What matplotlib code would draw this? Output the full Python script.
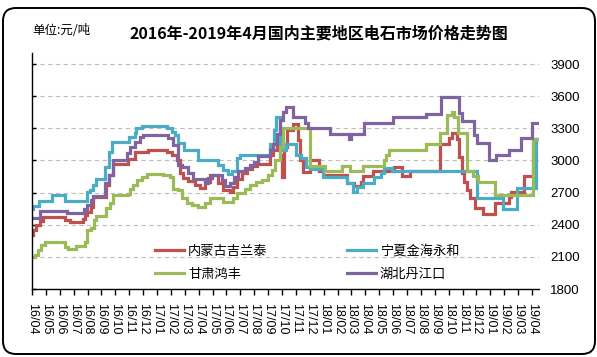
import matplotlib
matplotlib.use("Agg")
import matplotlib.pyplot as plt
from matplotlib.patches import FancyBboxPatch
from matplotlib.transforms import IdentityTransform

plt.rcParams['font.family'] = ['Noto Sans CJK SC', 'DejaVu Sans']

# ---------------- data (x = months since 2016/04, y = price 元/吨) ----------------
month_labels = ['16/04', '16/05', '16/06', '16/07', '16/08', '16/09', '16/10', '16/11', '16/12',
                '17/01', '17/02', '17/03', '17/04', '17/05', '17/06', '17/07', '17/08', '17/09',
                '17/10', '17/11', '17/12', '18/01', '18/02', '18/03', '18/04', '18/05', '18/06',
                '18/07', '18/08', '18/09', '18/10', '18/11', '18/12', '19/01', '19/02', '19/03', '19/04']
y_ticks = [1800, 2100, 2400, 2700, 3000, 3300, 3600, 3900]

series_names = ['内蒙古吉兰泰', '宁夏金海永和', '甘肃鸿丰', '湖北丹江口']

nm_x = [0, 0.07, 0.31, 0.55, 0.79, 2.35, 2.71, 3.67, 3.8, 3.98, 4.23, 4.39, 5.35, 5.55, 5.84,
        6.94, 7.42, 8.38, 9.7, 10.06, 10.42, 10.66, 10.9, 11.24, 11.74, 12.1, 12.46, 12.82,
        13.4, 13.76, 14.27, 14.48, 14.77, 15.13, 15.49, 15.85, 16.21, 17.15, 17.36, 17.65,
        17.87, 18.01, 18.16, 18.37, 18.8, 19.16, 19.31, 19.52, 20.03, 20.68, 20.96, 22.7,
        23.2, 23.7, 23.85, 24.57, 26.03, 26.63, 27.23, 29.39, 29.99, 30.24, 30.6, 30.71,
        30.96, 31.08, 31.32, 31.5, 31.92, 32.47, 33.36, 34.32, 34.49, 35.4, 36.1]
nm_y = [2300, 2350, 2395, 2435, 2475, 2440, 2425, 2450, 2490, 2520, 2565, 2660, 2770, 2860, 2970,
        3015, 3080, 3095, 3080, 3050, 3000, 2880, 2840, 2810, 2770, 2740, 2800, 2860,
        2786, 2724, 2710, 2755, 2830, 2885, 2920, 2945, 2970, 3050, 3093, 3190,
        3050, 2850, 3128, 3284, 3340, 3190, 3004, 2890, 3000, 2905, 2860, 2790,
        2760, 2800, 2855, 2904, 2942, 2855, 2904, 3153, 3206, 3253, 3200, 3035,
        2880, 2802, 2724, 2647, 2553, 2500, 2600, 2660, 2710, 2855, 3197]

nx_x = [0, 0.07, 0.5, 1.44, 2.35, 3.98, 4.15, 4.39, 4.63, 5.28, 5.55, 5.76, 6.99, 7.42, 7.5,
        7.9, 9.7, 10.06, 10.3, 10.54, 10.95, 11.94, 13.4, 13.76, 14.12, 14.41, 14.77, 14.99,
        17.15, 17.39, 17.56, 17.87, 17.99, 18.3, 19.02, 19.38, 19.74, 20.0, 20.96, 22.7,
        23.13, 23.41, 23.85, 24.64, 25.14, 25.32, 25.91, 32.04, 33.91, 34.92, 36.3]
nx_y = [2550, 2575, 2620, 2675, 2620, 2705, 2728, 2775, 2825, 2940, 3075, 3170, 3220, 3260, 3300,
        3320, 3300, 3267, 3235, 3160, 3095, 3004, 2955, 2910, 2870, 2900, 3020, 3050,
        3158, 3284, 3408, 3128, 3100, 3158, 3050, 3020, 2940, 2920, 2850, 2790,
        2708, 2750, 2792, 2848, 2880, 2927, 2904, 2647, 2544, 2745, 3200]

gs_x = [0, 0.19, 0.43, 0.67, 0.91, 2.4, 2.59, 3.19, 3.8, 3.98, 4.27, 4.44, 4.63, 5.35, 5.6, 5.84,
        6.94, 7.06, 7.3, 7.54, 7.9, 8.26, 9.46, 9.94, 10.18, 10.54, 10.78, 11.14, 11.5, 11.96,
        12.46, 12.82, 13.76, 14.48, 14.77, 15.35, 15.71, 16.14, 16.57, 17.0, 17.29, 17.51,
        17.87, 18.08, 20.03, 21.11, 22.33, 22.91, 23.85, 25.31, 25.5, 25.72, 28.39, 29.39,
        29.88, 30.24, 30.4, 30.69, 31.32, 31.77, 32.13, 33.36, 36.1]
gs_y = [2100, 2115, 2160, 2215, 2235, 2190, 2175, 2200, 2240, 2350, 2370, 2440, 2480, 2560, 2605, 2675,
        2690, 2735, 2770, 2815, 2845, 2877, 2860, 2845, 2735, 2720, 2645, 2600, 2585, 2570,
        2600, 2650, 2610, 2650, 2700, 2735, 2770, 2800, 2820, 2860, 2910, 3000,
        3128, 3300, 2948, 2904, 2948, 2904, 2948, 3000, 3050, 3097, 3153, 3253,
        3424, 3455, 3408, 3253, 2904, 2855, 2802, 2677, 3197]

hb_x = [0, 0.55, 2.54, 3.75, 3.98, 4.23, 4.39, 5.28, 5.55, 5.84, 6.84, 7.06, 7.42, 7.78, 8.02,
        9.82, 10.18, 10.54, 10.78, 11.24, 11.6, 12.46, 12.68, 12.97, 13.69, 13.9, 14.27, 14.55,
        14.84, 15.35, 15.71, 16.0, 16.28, 17.15, 17.36, 17.65, 17.87, 18.08, 18.3, 18.8, 19.67,
        19.88, 21.47, 22.8, 22.98, 23.88, 25.97, 28.35, 29.43, 30.76, 30.98, 31.84, 32.06,
        32.93, 33.43, 34.37, 35.23, 36.02]
hb_y = [2463, 2530, 2510, 2550, 2580, 2630, 2665, 2785, 2860, 3000, 3065, 3127, 3173, 3220, 3235,
        3205, 3140, 2955, 2940, 2885, 2824, 2790, 2840, 2865, 2820, 2760, 2790, 2850,
        2900, 2930, 2960, 2990, 3040, 3100, 3158, 3250, 3377, 3455, 3500, 3408, 3346,
        3300, 3245, 3200, 3245, 3347, 3403, 3433, 3595, 3440, 3371, 3237, 3166,
        3000, 3050, 3097, 3206, 3347]

x_end = 36.5
colors = ['#C0504D', '#4BACC6', '#9BBB59', '#8064A2']

# ---------------- figure ----------------
W, H = 597, 357
fig = plt.figure(figsize=(W / 100, H / 100), dpi=100)
fig.patch.set_facecolor('white')

# outer rounded frame
frame = FancyBboxPatch((3, H - 354), 592, 346, boxstyle="round,pad=0,rounding_size=13",
                       transform=IdentityTransform(), fill=False, ec='black', lw=1.4)
fig.add_artist(frame)

ax = fig.add_axes([32 / W, 1 - 289 / H, (539 - 32) / W, (289 - 53.3) / H])
ax.set_facecolor('none')

data = [(nm_x, nm_y), (nx_x, nx_y), (gs_x, gs_y), (hb_x, hb_y)]
handles = []
for (xs, ys), c, name in zip(data, colors, series_names):
    ln, = ax.step(list(xs) + [x_end], list(ys) + [ys[-1]], where='post', color=c, lw=2.3,
                  label=name, solid_joinstyle='miter')
    handles.append(ln)

ax.set_xlim(0, x_end)
ax.set_ylim(1800, 4000)
ax.set_yticks(y_ticks)
ax.set_yticklabels([str(v) for v in y_ticks])
ax.set_xticks(range(len(month_labels)))
ax.set_xticklabels(month_labels)

ax.yaxis.grid(True, linestyle=(0, (4, 3)), color='#BEBEBE', lw=0.8)
ax.set_axisbelow(True)
for s in ['top', 'right']:
    ax.spines[s].set_visible(False)
for s in ['left', 'bottom']:
    ax.spines[s].set_color('black')
    ax.spines[s].set_linewidth(1.0)

ax.tick_params(axis='y', left=True, right=False, labelleft=False, labelright=True,
               direction='in', length=3, width=1, pad=8, labelsize=9.5)
ax.tick_params(axis='x', direction='out', length=4, width=1, pad=6, labelsize=9,
               labelrotation=-90)
for lab in ax.get_xticklabels() + ax.get_yticklabels():
    lab.set_fontfamily('Liberation Sans')
for lab in ax.get_xticklabels():
    lab.set_va('top')
    lab.set_ha('center')

# legend: column 1 red/green, column 2 blue/purple
order = [0, 2, 1, 3]
fig.legend([handles[i] for i in order], [series_names[i] for i in order],
           ncol=2, loc='upper left', bbox_to_anchor=(155 / W, 1 - 245 / H),
           bbox_transform=fig.transFigure, frameon=False, fontsize=9.5,
           handlelength=2.2, handletextpad=0.3, columnspacing=6.0,
           labelspacing=0.75, borderpad=0, borderaxespad=0)

fig.text(319 / W, 1 - 34 / H, '2016年-2019年4月国内主要地区电石市场价格走势图',
         ha='center', va='center', fontsize=11.5, fontweight='bold')
fig.text(32 / W, 1 - 31 / H, '单位:元/吨', ha='left', va='center', fontsize=9)

fig.savefig('out.png', dpi=100)
